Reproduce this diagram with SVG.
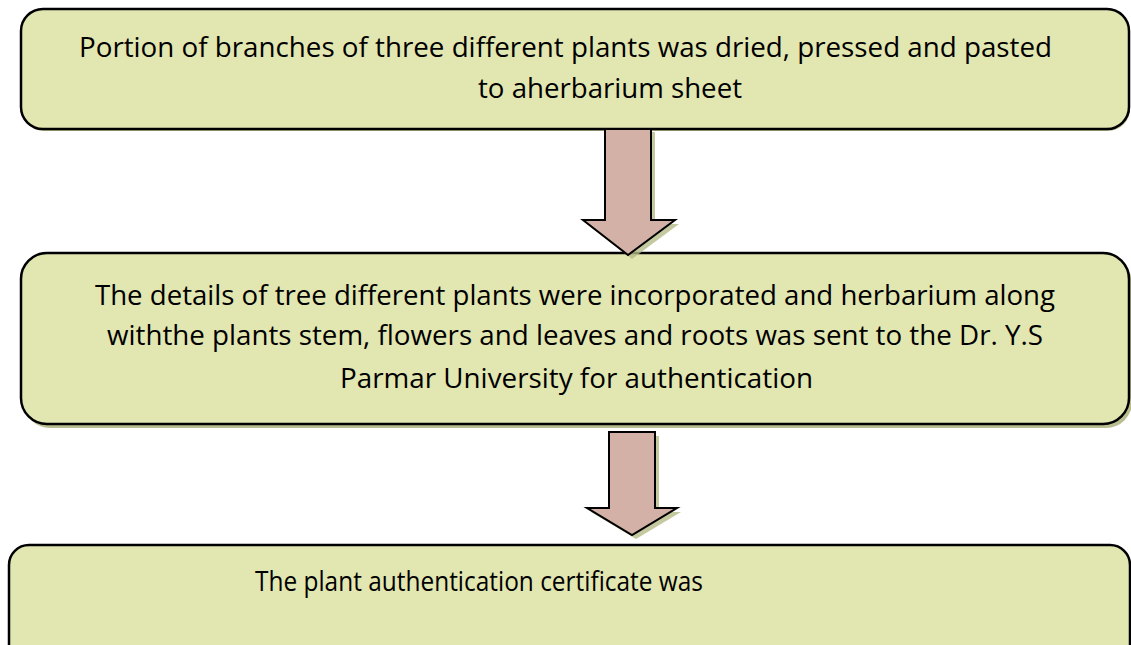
<svg xmlns="http://www.w3.org/2000/svg" width="1131" height="645" viewBox="0 0 1131 645">
<defs>
<style>
.box{fill:#e2e6b0;stroke:#000;stroke-width:2.5}
.shadow{fill:#b9bd8f}
.arrow{fill:#d3b1a7;stroke:#000;stroke-width:2;stroke-linejoin:miter}
.ashadow{fill:#b7bb88;opacity:0.8}
.t{font-family:"Open Sans","Noto Sans","Liberation Sans",sans-serif;font-size:27.5px;fill:#000}
</style>
</defs>
<rect width="1131" height="645" fill="#fff"/>
<g id="node1">
<rect class="shadow" x="22" y="11" width="1108" height="120" rx="22"/>
<rect class="box" x="21" y="9" width="1108" height="120" rx="22"/>
<text class="t" x="79" y="57" textLength="973" lengthAdjust="spacingAndGlyphs">Portion of branches of three different plants was dried, pressed and pasted</text>
<text class="t" x="478" y="98" textLength="264" lengthAdjust="spacingAndGlyphs">to aherbarium sheet</text>
</g>
<g id="node2">
<rect class="shadow" x="24" y="257" width="1108" height="171" rx="26"/>
<rect class="box" x="21" y="253" width="1108" height="171" rx="26"/>
<text class="t" x="95" y="305" textLength="960" lengthAdjust="spacingAndGlyphs">The details of tree different plants were incorporated and herbarium along</text>
<text class="t" x="107" y="345" textLength="936" lengthAdjust="spacingAndGlyphs">withthe plants stem, flowers and leaves and roots was sent to the Dr. Y.S</text>
<text class="t" x="340" y="388" textLength="473" lengthAdjust="spacingAndGlyphs">Parmar University for authentication</text>
</g>
<g id="node3">
<rect class="box" x="9" y="545" width="1121" height="120" rx="20"/>
<text class="t" x="255" y="591" textLength="448" lengthAdjust="spacingAndGlyphs">The plant authentication certificate was</text>
</g>
<g id="connectors">
<path class="ashadow" d="M609 132 L655 132 L655 224 L679 224 L632 259 L587 224 L609 224 Z"/>
<path class="arrow" d="M605 129 L651 129 L651 220 L675 220 L628 255 L583 220 L605 220 Z"/>
<path class="ashadow" d="M613 436 L659 436 L659 512 L681 512 L636 539 L591 512 L613 512 Z"/>
<path class="arrow" d="M609 432 L655 432 L655 508 L677 508 L632 535 L587 508 L609 508 Z"/>
</g>
</svg>
